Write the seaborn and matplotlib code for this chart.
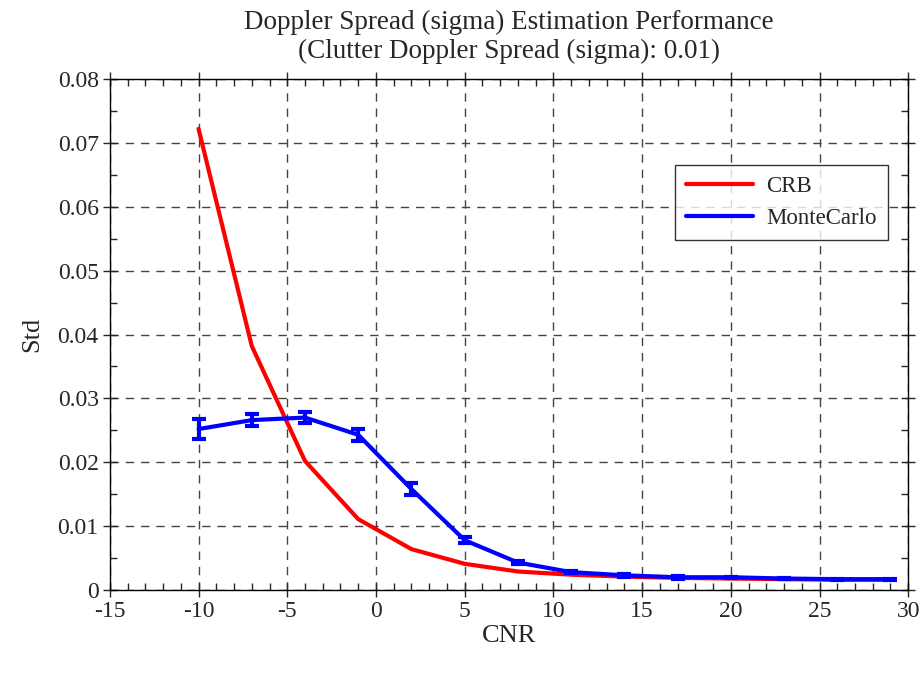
import matplotlib
matplotlib.use("Agg")
import matplotlib.pyplot as plt
import seaborn as sns
import numpy as np
import pandas as pd
from matplotlib.ticker import MultipleLocator

cnr = [-10, -7, -4, -1, 2, 5, 8, 11, 14, 17, 20, 23, 26, 29]
crb = [0.0722, 0.0382, 0.0202, 0.0111, 0.0064, 0.0041, 0.0029, 0.0024,
       0.0021, 0.0019, 0.0018, 0.0017, 0.0016, 0.0016]
mc = [0.0252, 0.0266, 0.0270, 0.0243, 0.0158, 0.0078, 0.0043, 0.0028,
      0.0023, 0.0020, 0.0020, 0.0018, 0.0017, 0.0017]
mc_err = [0.0015, 0.0010, 0.0009, 0.0009, 0.0010, 0.0005, 0.0003, 0.0002,
          0.0002, 0.0002, 0.0001, 0.0001, 0.0001, 0.0001]
ytick_labels = ["0", "0.01", "0.02", "0.03", "0.04", "0.05", "0.06", "0.07", "0.08"]

sns.set_style("ticks")
plt.rcParams['font.family'] = ['Liberation Serif', 'DejaVu Serif']
plt.rcParams['axes.unicode_minus'] = False

fig = plt.figure(figsize=(9.23, 6.73), dpi=100)
ax = fig.add_axes([0.119, 0.1233, 0.865, 0.7593])

df = pd.DataFrame({"CNR": cnr + cnr,
                   "Std": crb + mc,
                   "series": ["CRB"] * len(cnr) + ["MonteCarlo"] * len(cnr)})
sns.lineplot(data=df, x="CNR", y="Std", hue="series",
             palette={"CRB": "#ff0000", "MonteCarlo": "#0000ff"},
             linewidth=3, ax=ax, zorder=3)
ax.errorbar(cnr, mc, yerr=mc_err, fmt='none', ecolor="#0000ff",
            elinewidth=3, capsize=5, capthick=3, zorder=4)

ax.set_xlim(-15, 30)
ax.set_ylim(0, 0.08)
ax.xaxis.set_major_locator(MultipleLocator(5))
ax.xaxis.set_minor_locator(MultipleLocator(1))
ax.yaxis.set_minor_locator(MultipleLocator(0.005))
ax.set_yticks(np.arange(0, 0.081, 0.01))
ax.set_yticklabels(ytick_labels)
ax.tick_params(which='major', direction='inout', length=10, width=1,
               top=True, right=True, labelsize=17, pad=3)
ax.tick_params(which='minor', direction='in', length=5, width=1,
               top=True, right=True)
for s in ax.spines.values():
    s.set_visible(True)
    s.set_linewidth(1)
    s.set_color('black')

ax.grid(True, which='major', linestyle=(0, (6, 5)), color='#444444', linewidth=1)
ax.set_axisbelow(True)

ax.set_xlabel("CNR", fontsize=19, labelpad=2)
ax.set_ylabel("Std", fontsize=19, labelpad=10)
ax.set_title("Doppler Spread (sigma) Estimation Performance\n(Clutter Doppler Spread (sigma): 0.01)",
             fontsize=19.5, linespacing=1.2, pad=15)

leg = ax.legend(loc='upper right', bbox_to_anchor=(0.975, 0.832), fontsize=16.5,
                frameon=True, fancybox=False, edgecolor='black', borderaxespad=0,
                handlelength=2.9, borderpad=0.5, labelspacing=0.45, handletextpad=0.6)
leg.get_frame().set_linewidth(1)

fig.savefig("out.png", dpi=100, facecolor='white')
